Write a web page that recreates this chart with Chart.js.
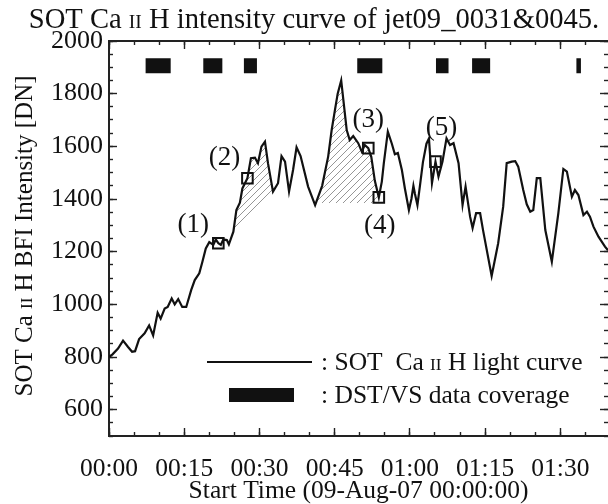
<!DOCTYPE html>
<html>
<head>
<meta charset="utf-8">
<script src="https://cdn.jsdelivr.net/npm/chart.js@4.4.1/dist/chart.umd.min.js"></script>
<style>
  html, body { margin: 0; padding: 0; background: #fff; }
  canvas { display: block; }
</style>
</head>
<body>
<canvas id="chart" width="608" height="504"></canvas>
<script>
// SOT Ca II H light curve: minutes after 09-Aug-07 00:00:00 and BFI intensity [DN]
const timeMin = [
  0.0, 0.7, 1.8, 2.8, 3.8, 4.6, 5.2, 6.0, 7.1, 8.0, 8.8, 9.7, 10.3, 11.1, 11.7,
  12.5, 13.1, 13.8, 14.6, 15.4, 16.4, 17.1, 18.0, 18.6, 19.3, 20.0, 20.8, 21.3,
  21.8, 22.3, 22.8, 23.5, 23.9, 24.8, 25.4, 26.1, 26.6, 27.6, 28.3, 29.1, 29.7,
  30.4, 31.1, 31.7, 32.7, 33.7, 34.4, 35.1, 35.9, 36.7, 37.4, 38.2, 39.7, 41.1,
  42.5, 43.7, 44.4, 45.0, 45.6, 46.3, 47.4, 48.0, 48.7, 49.7, 50.4, 51.0, 51.7,
  52.3, 53.0, 53.8, 54.4, 54.8, 55.6, 56.4, 57.0, 57.6, 58.4, 59.0, 59.8, 60.3,
  60.7, 61.0, 61.5, 62.0, 62.6, 63.3, 63.8, 64.4, 65.1, 65.7, 66.5, 67.3, 68.0,
  68.7, 69.7, 70.5, 71.1, 72.0, 72.5, 73.2, 74.0, 74.6, 76.3, 77.6, 78.6, 79.3,
  80.3, 81.0, 81.6, 82.6, 83.3, 84.0, 84.6, 85.3, 86.0, 87.0, 88.3, 89.6, 90.6,
  91.3, 92.3, 92.9, 93.6, 94.6, 95.3, 95.9, 96.6, 97.6, 98.9, 99.5
];
const intensityDN = [
  800, 810, 832, 862, 838, 820, 822, 868, 890, 920, 882, 968, 946, 984, 990,
  1022, 1000, 1020, 990, 990, 1055, 1092, 1118, 1160, 1212, 1236, 1226, 1246,
  1232, 1226, 1246, 1244, 1228, 1276, 1358, 1386, 1440, 1479, 1555, 1557, 1536,
  1599, 1618, 1536, 1428, 1460, 1563, 1542, 1428, 1510, 1596, 1563, 1447, 1377,
  1450, 1561, 1662, 1732, 1800, 1850, 1662, 1624, 1639, 1612, 1580, 1605, 1593,
  1560, 1470, 1406, 1466, 1536, 1656, 1610, 1570, 1575, 1510, 1440, 1358, 1400,
  1450, 1420, 1377, 1450, 1540, 1610, 1630, 1460, 1542, 1485, 1542, 1630, 1605,
  1612, 1536, 1377, 1447, 1333, 1290, 1346, 1346, 1280, 1108, 1232, 1371, 1536,
  1542, 1544, 1523, 1434, 1380, 1352, 1358, 1479, 1479, 1282, 1162, 1346, 1514,
  1504, 1409, 1434, 1415, 1339, 1352, 1333, 1295, 1257, 1219, 1205
];

// DST/VS observing windows [minutes]
const coverageStart = [7.3, 18.8, 26.9, 49.5, 65.2, 72.4, 93.2];
const coverageEnd   = [12.3, 22.6, 29.5, 54.5, 67.7, 76.0, 94.1];

// Marked frames on the light curve
const markerTime  = [21.8, 27.6, 51.7, 53.8, 65.1];
const markerDN    = [1232, 1479, 1593, 1406, 1542];
const markerLabel = ['(1)', '(2)', '(3)', '(4)', '(5)'];

// Lower edges of the two shaded intensity rises (null splits them)
const shadeBaseTime = [24.8, 32.7, 37.0, 41.2, 53.6];
const shadeBaseDN   = [1276, 1428, null, 1385, 1385];

// Axis tick labels
const timeTickLabels = ['00:00', '00:15', '00:30', '00:45', '01:00', '01:15', '01:30'];
const intensityTickLabels = ['600', '800', '1000', '1200', '1400', '1600', '1800', '2000'];

const SERIF = "'Liberation Serif', 'Times New Roman', Times, serif";
const INK = '#111';
const AXIS = '#222';

// Build the point lists Chart.js consumes
const curvePoints = timeMin.map((t, i) => ({ x: t, y: intensityDN[i] }));
const COVERAGE_ROW = 1906;
const coveragePoints = [];
coverageStart.forEach((s, i) => {
  coveragePoints.push({ x: s, y: COVERAGE_ROW }, { x: coverageEnd[i], y: COVERAGE_ROW }, { x: coverageEnd[i], y: null });
});
const shadeBasePoints = shadeBaseTime.map((t, i) => ({ x: t, y: shadeBaseDN[i] }));
const markerPoints = markerTime.map((t, i) => ({ x: t, y: markerDN[i] }));

// Diagonal hatch used for the shaded rises
function makeHatch() {
  const s = 7;
  const c = document.createElement('canvas');
  c.width = s; c.height = s;
  const g = c.getContext('2d');
  g.strokeStyle = '#8a8a8a';
  g.lineWidth = 0.9;
  g.beginPath();
  g.moveTo(0, s); g.lineTo(s, 0);
  g.moveTo(-1, 1); g.lineTo(1, -1);
  g.moveTo(s - 1, s + 1); g.lineTo(s + 1, s - 1);
  g.stroke();
  return g.createPattern(c, 'repeat');
}

// Text with a reduced-size run (the "II" of Ca II)
function richWidth(ctx, parts, size) {
  let w = 0;
  parts.forEach(([t, k]) => { ctx.font = `${size * k}px ${SERIF}`; w += ctx.measureText(t).width; });
  return w;
}
function drawRich(ctx, parts, x, y, size, align) {
  const w = richWidth(ctx, parts, size);
  let cx = align === 'center' ? x - w / 2 : x;
  ctx.textAlign = 'left';
  ctx.textBaseline = 'alphabetic';
  parts.forEach(([t, k]) => {
    ctx.font = `${size * k}px ${SERIF}`;
    ctx.fillText(t, cx, y);
    cx += ctx.measureText(t).width;
  });
}

const SC = 0.68;
const titleParts = [['SOT Ca ', 1], ['II', SC], [' H intensity curve of jet09_0031&0045.', 1]];
const yTitleParts = [['SOT Ca ', 1], ['II', SC], [' H BFI Intensity [DN]', 1]];
const legendCurveParts = [[': SOT  Ca ', 1], ['II', SC], [' H light curve', 1]];
const legendCoverParts = [[': DST/VS data coverage', 1]];

const annotations = {
  id: 'annotations',
  afterDatasetsDraw(chart) {
    const { ctx, scales: { x, y } } = chart;
    const offsets = [[-25, -18], [-23, -20], [0, -28], [1, 28], [6, -34]];
    ctx.save();
    ctx.fillStyle = INK;
    ctx.font = `27px ${SERIF}`;
    ctx.textAlign = 'center';
    ctx.textBaseline = 'middle';
    markerLabel.forEach((lab, i) => {
      const px = x.getPixelForValue(markerTime[i]) + offsets[i][0];
      const py = y.getPixelForValue(markerDN[i]) + offsets[i][1];
      ctx.fillText(lab, px, py);
    });
    ctx.restore();
  },
  afterDraw(chart) {
    const { ctx } = chart;
    ctx.save();
    ctx.fillStyle = INK;
    // chart title
    drawRich(ctx, titleParts, 314, 28, 28.6, 'center');
    // y-axis title
    ctx.save();
    ctx.translate(32, 236);
    ctx.rotate(-Math.PI / 2);
    drawRich(ctx, yTitleParts, 0, 0, 25, 'center');
    ctx.restore();
    // legend
    ctx.strokeStyle = INK;
    ctx.lineWidth = 2;
    ctx.beginPath();
    ctx.moveTo(207, 362);
    ctx.lineTo(312, 362);
    ctx.stroke();
    ctx.fillRect(229, 388, 65, 14);
    drawRich(ctx, legendCurveParts, 321, 370, 25.5, 'left');
    drawRich(ctx, legendCoverParts, 321, 403, 25.5, 'left');
    ctx.restore();
  }
};

function inwardGrid(len) {
  return { display: true, drawOnChartArea: false, drawTicks: true, tickLength: -len, tickWidth: 1.4, tickColor: AXIS };
}
const hiddenTicks = (step) => ({ display: false, stepSize: step, includeBounds: false });

const ctx = document.getElementById('chart').getContext('2d');
new Chart(ctx, {
  type: 'line',
  data: {
    datasets: [
      {
        label: 'SOT Ca II H light curve',
        data: curvePoints,
        borderColor: INK,
        borderWidth: 2.2,
        pointRadius: 0,
        tension: 0,
        fill: 2,
        backgroundColor: makeHatch(),
        order: 1
      },
      {
        label: 'DST/VS data coverage',
        data: coveragePoints,
        borderColor: INK,
        borderWidth: 15,
        borderCapStyle: 'butt',
        pointRadius: 0,
        spanGaps: false,
        fill: false,
        order: 2
      },
      {
        label: 'shade base',
        data: shadeBasePoints,
        borderColor: 'rgba(0,0,0,0)',
        borderWidth: 0,
        pointRadius: 0,
        spanGaps: false,
        fill: false,
        order: 3
      },
      {
        label: 'frames',
        data: markerPoints,
        showLine: false,
        pointStyle: 'rect',
        pointRadius: 7.5,
        pointBorderWidth: 2,
        pointBorderColor: INK,
        pointBackgroundColor: 'rgba(0,0,0,0)',
        order: 0
      }
    ]
  },
  options: {
    responsive: false,
    animation: false,
    events: [],
    layout: { autoPadding: false, padding: { top: 41, left: 0, right: 0, bottom: 0 } },
    plugins: { legend: { display: false }, tooltip: { enabled: false }, title: { display: false } },
    scales: {
      x: {
        type: 'linear', position: 'bottom', min: 0, max: 99.5,
        afterFit: (s) => { s.height = 68; s.paddingLeft = 0; s.paddingRight = 0; },
        ticks: {
          stepSize: 15, includeBounds: false, autoSkip: false, maxRotation: 0, minRotation: 0,
          padding: 29, color: INK, font: { family: SERIF, size: 25.5, lineHeight: 1 },
          callback: (v) => timeTickLabels[Math.round(v / 15)] ?? ''
        },
        grid: inwardGrid(8),
        border: { display: true, color: AXIS, width: 2 },
        title: {
          display: true, text: 'Start Time (09-Aug-07 00:00:00)', color: INK,
          font: { family: SERIF, size: 25.5, lineHeight: 1 }, padding: { top: 0, bottom: 0 }
        }
      },
      xMinor: {
        type: 'linear', axis: 'x', position: 'bottom', weight: -1, min: 0, max: 99.5,
        afterFit: (s) => { s.height = 0; s.paddingLeft = 0; s.paddingRight = 0; },
        ticks: hiddenTicks(5), grid: inwardGrid(4), border: { display: false }
      },
      xTop: {
        type: 'linear', axis: 'x', position: 'top', min: 0, max: 99.5,
        afterFit: (s) => { s.height = 0; s.paddingLeft = 0; s.paddingRight = 0; },
        ticks: hiddenTicks(15), grid: inwardGrid(8),
        border: { display: true, color: AXIS, width: 2 }
      },
      xTopMinor: {
        type: 'linear', axis: 'x', position: 'top', weight: -1, min: 0, max: 99.5,
        afterFit: (s) => { s.height = 0; s.paddingLeft = 0; s.paddingRight = 0; },
        ticks: hiddenTicks(5), grid: inwardGrid(4), border: { display: false }
      },
      y: {
        type: 'linear', position: 'left', min: 500, max: 2000,
        afterFit: (s) => { s.width = 109; },
        ticks: {
          stepSize: 200, includeBounds: false, padding: 14, color: INK,
          font: { family: SERIF, size: 26, lineHeight: 1 },
          callback: (v) => intensityTickLabels[Math.round((v - 600) / 200)] ?? ''
        },
        grid: inwardGrid(8),
        border: { display: true, color: AXIS, width: 2 }
      },
      yMinor: {
        type: 'linear', axis: 'y', position: 'left', weight: -1, min: 500, max: 2000,
        afterFit: (s) => { s.width = 0; },
        ticks: hiddenTicks(50), grid: inwardGrid(4), border: { display: false }
      },
      yRight: {
        type: 'linear', axis: 'y', position: 'right', min: 500, max: 2000,
        afterFit: (s) => { s.width = 0; },
        ticks: hiddenTicks(200), grid: inwardGrid(8), border: { display: false }
      },
      yRightMinor: {
        type: 'linear', axis: 'y', position: 'right', weight: -1, min: 500, max: 2000,
        afterFit: (s) => { s.width = 0; },
        ticks: hiddenTicks(50), grid: inwardGrid(4), border: { display: false }
      }
    }
  },
  plugins: [annotations]
});
</script>
</body>
</html>
